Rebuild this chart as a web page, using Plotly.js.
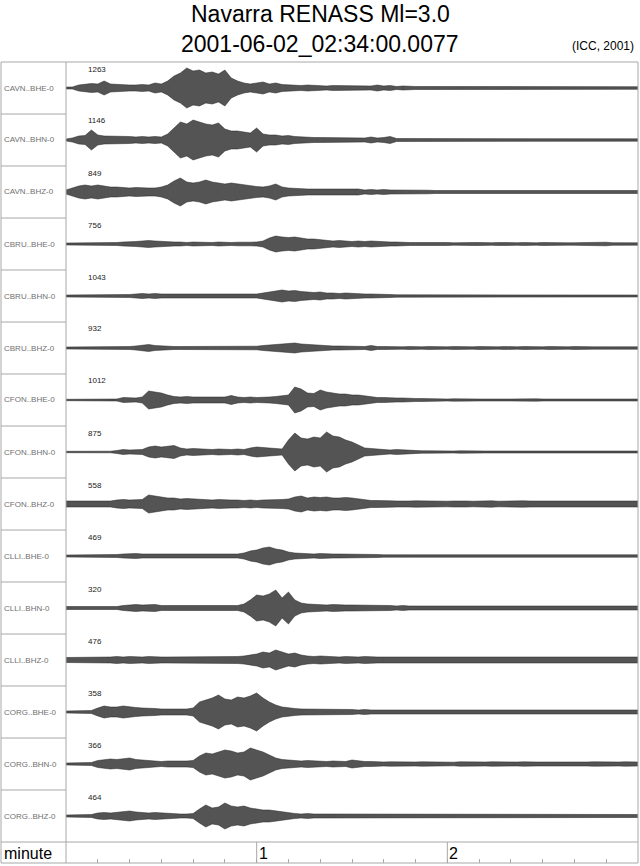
<!DOCTYPE html>
<html><head><meta charset="utf-8">
<script src="https://cdn.plot.ly/plotly-3.0.1.min.js"></script>
<style>html,body{margin:0;padding:0;background:#fff}#chart{width:640px;height:866px}</style>
</head><body><div id="chart"></div>
<script>
// time of each envelope sample, seconds after 02:34:00.0077
const timeSec = [0,2,4,6,8,10,12,14,16,18,20,22,24,26,28,30,32,34,36,38,40,42,44,46,48,50,52,54,56,58,60,62,64,66,68,70,72,74,76,78,80,82,84,86,88,90,92,94,96,98,100,102,104,106,108,110,112,114,116,118,120,122,124,126,128,130,132,134,136,138,140,142,144,146,148,150,152,154,156,158,160,162,164,166,168,170,172,174,176,178,180];

const stations = ["CAVN..BHE-0","CAVN..BHN-0","CAVN..BHZ-0","CBRU..BHE-0","CBRU..BHN-0","CBRU..BHZ-0","CFON..BHE-0","CFON..BHN-0","CFON..BHZ-0","CLLI..BHE-0","CLLI..BHN-0","CLLI..BHZ-0","CORG..BHE-0","CORG..BHN-0","CORG..BHZ-0"];
const peakCounts = [1263,1146,849,756,1043,932,1012,875,558,469,320,476,358,366,464];

// envelope (peak deviation, relative units) read from the record
const ampCAVN_BHE = [1,1,3,4,4.5,4,7,4,3.5,3, 3,3,3.5,3,5,4,7,12,15,20, 17,18,15,16,14,18,10,7,5,4, 5,6,4,5,3.5,3,3,2.5,3,2.5, 2.5,2,2.5,2.5,2,2.5,2,2.5,2,3, 2,2.5,1.5,2,1.5,1.5,1.5,1.5,1.2,1.5, 1.5,1.2,1.5,1.2,1.5,1.8,1.2,1.5,1.5,1.2, 1.3,1.5,1.5,1.3,1.2,1.5,1.3,1.2,1.4,1.5, 1.2,1.3,1.5,1.2,1.3,1.5,1.2,1.3,1.5,1.2, 1.3];
const ampCAVN_BHN = [1,2,4,4.5,10,5,4,4,3.5,4, 3.5,3,3.5,3,3.5,3,6,12,18,16, 20,18,16,15,17,11,9,9,8,7, 12,6,5,5,4,4.5,3.5,3,3,2.5, 2.5,2.5,2,2.5,2,2.5,2.5,2,3,2, 2.5,3.5,1.5,1.5,1.2,1.5,1.5,1.2,1.3,1.5, 1.5,1.2,1.3,1.2,1.5,1.3,1.2,1.5,1.4,1.5, 1.5,1.2,1.2,1.3,1.4,1.2,1.3,1.2,1.5,1.3, 1.2,1.4,1.3,1.5,1.2,1.3,1.4,1.2,1.3,1.5, 1.2];
const ampCAVN_BHZ = [2,4,6,7,6,7,6,5,5,4.5, 4,4.5,4,4,4,5,7,11,14,10, 9,10,12,10,9,8,9,8,7,6, 5.5,5,6,8,5,4,3.5,3.5,3,3, 3,2.5,3,2.5,3,2.5,3,2,2.5,2, 2.5,2,2,2.5,2,2.5,2,1.8,1.5,1.5, 1.5,1.3,1.5,1.5,1.3,1.5,1.5,1.2,1.5,1.5, 1.3,1.5,1.5,1.2,1.5,1.3,1.5,1.5,1.3,1.5, 1.2,1.5,1.5,1.3,1.5,1.5,1.3,1.5,1.4,1.5, 1.5];
const ampCBRU_BHE = [1,1,1,1.2,1,1.2,1.5,1.5,1.5,2, 2,2.5,3,3.5,3,2.5,2.5,2,2,1.5, 2,1.8,1.5,1.5,2,1.5,1.5,1.8,1.5,1.8, 2,3,6,8,7,6.5,7,6,5,5, 4.5,4,3,3.5,3,2.5,3,2.5,3,2.5, 2,2,2,1.5,1.5,1.5,1.5,2,1.3,1.5, 1.5,1.2,1.5,1.3,1.5,1.5,1.2,1.3,1.5,1.2, 1.2,1.3,1.5,1.2,1.2,1.5,1.3,1.5,1.2,1.2, 1.3,1.5,1.3,1.2,1.5,1.8,1.3,1.2,1.3,1.2, 1.2];
const ampCBRU_BHN = [1,1,1,1,1,1,1,1,1.2,1.2, 1.5,2,2.5,2,2.5,2,2,1.8,1.5,1.5, 1.8,1.5,1.5,1.5,1.5,1.5,1.5,1.8,1.5,1.5, 2,3,4,5,6,5,5.5,4.5,4,3.5, 4,3,3,2.5,3,2.5,2.5,2,2,2, 1.5,1.5,1.2,1.2,1.2,1,0.8,0.8,1,1.2, 1.2,1,1.2,1.1,1.2,1.3,1,1.2,1.2,1, 1.2,1.1,1.2,1,1.3,1.2,1,1.2,1.1,1.2, 1.2,1,1.3,1.1,1.2,1.2,1,1.2,1.1,1.2, 1];
const ampCBRU_BHZ = [1,1,1,1,1,1,1.2,1.5,1.5,1.5, 1.5,2,3,3.5,2.5,2,1.8,1.5,1.5,1.5, 1.8,1.5,1.5,1.5,1.5,1.5,1.5,1.5,1.5,1.5, 1.8,2.5,3,3,3.5,4,5,4,3.5,3, 3,2.5,2,2,2,1.8,1.5,1.5,2.5,1.5, 1.5,1.2,1.2,1.2,1.5,1.2,1.2,1.5,1.2,1.2, 1.2,1.5,1.2,1.2,1.2,1.5,1.2,1.2,1.2,1.5, 1.2,1.2,1.5,1.2,1.2,1.2,1.5,1.2,1.2,1.2, 1.5,1.2,1.2,1.2,1.2,1.5,1.2,1.2,1.2,1.5, 1.2];
const ampCFON_BHE = [0.7,0.7,0.7,0.7,0.8,0.7,0.7,0.8,1,2.5, 2.5,2,3,9,8,7,5,3.5,3,3.5, 3,3,2.5,3,2.5,3,4.5,3,2.5,3, 2.5,2.5,3,3.5,4,5,13,11,7,6.5, 10,8,7,6,6,5,5,4,3,2.5, 2.5,2,2,2,1.5,1.5,1.5,1.2,1.2,1.2, 1,1.2,1,1,1.2,1,1,1.2,1,1, 1,1.2,1,1,1.2,1,1,1,1.2,1, 1,1.2,1,1,1,1.2,1,1,1,1.2, 1];
const ampCFON_BHN = [0.7,0.7,0.7,0.7,0.7,0.8,0.7,0.8,1.5,2.5, 2,2,2.5,5,6,5,6,6.5,4,3, 3.5,3,3,2.5,3,2.5,2.5,3,2.5,4, 5,4.5,4,3,3,12,19,14,13,15, 14,20,16,15,12,10,7,4,3.5,3, 2.5,2,2.5,2,1.5,1.5,1.2,1.2,1,1.2, 1,1,1.2,1,1,1.2,1,1,1,1.2, 1,1,1.2,1,1,1,1.2,1,1,1, 1.2,1,1,1.2,1,1,1,1.2,1,1, 1];
const ampCFON_BHZ = [3,3,3.5,3,3,3.5,3,3,4,4.5, 4,4,4.5,9,8,7,6,6,5,5.5, 5,4.5,4,4,4.5,4,4,4,3.5,4, 3.5,4,4,4,4.5,5,7,8,6,7, 6.5,7,6,6,6.5,6,5,4,3.5,3.5, 3,3.2,3,2.8,3,3.2,3,2.8,3,3, 2.8,3,3.2,3,2.8,3,3,3.2,2.8,3, 3,2.8,3.2,3,3,2.8,3,3.2,3,2.8, 3,3,3.2,2.8,3,3,2.8,3.2,3,3, 3];
const ampCLLI_BHE = [1,1,1,1,1,1,1,1.2,1.5,2, 2.5,2.5,2,2,2,1.8,1.5,1.5,1.8,1.5, 1.5,1.5,1.5,1.8,1.5,1.5,1.8,2,3,5, 6,8,9,7,6,4,3,2.5,2,2, 2.5,2,2,2,2,1.8,1.5,1.5,1.5,1.5, 1.2,1.5,1.2,1.2,1.5,1.2,1.2,1.2,1.5,1.2, 1.2,1.2,1.5,1.2,1.2,1.2,1.5,1.2,1.2,1.2, 1.5,1.2,1.2,1.2,1.2,1.5,1.2,1.2,1.2,1.5, 1.2,1.2,1.2,1.5,1.2,1.2,1.2,1.2,1.5,1.2, 1.2];
const ampCLLI_BHN = [1.5,1.5,1.5,1.5,1.8,1.5,1.5,1.5,1.5,2.5, 3,3.5,3,3,3.5,2.5,2.5,2.5,2,2.5, 2,2,2.5,2,2,2,2,2.5,4,8, 13,12,14,18,10,16,8,5,4,3.5, 3,3,3.5,3,3,3,3,2.5,3,2.5, 2.5,2.5,2,2.5,2,2,2.5,2,2,2, 2,1.8,2,2.2,1.8,2,2,1.8,2.2,2, 1.8,2,2,2.2,1.8,2,2,1.8,2,2.2, 2,1.8,2,2,2.2,1.8,2,2,1.8,2, 2];
const ampCLLI_BHZ = [2.5,2.5,2.5,2.5,3,2.5,3,3,3.5,3, 3.5,3,3,3.5,3,3,3,3,3.5,3, 3,3,3,3,3,3,3.5,3.5,4,5, 6,8,7,10,8,6,7,5,4,3.5, 4,3.5,3,3,3.5,3,3,3.5,3,3, 3,3,3,3.5,3,3,3,2.8,3,3.2, 3,2.8,3,3.2,3,3,2.8,3,3.2,3, 3,3.2,2.8,3,3,3.2,3,2.8,3,3, 3.2,3,2.8,3,3,3.2,3,3,2.8,3, 3];
const ampCORG_BHE = [1,1,1,1.2,1.5,4,6,5,5,6, 5,4.5,4,4,3.5,3,3,3,3.5,3, 4,10,12,14,17,13,12,15,14,16, 19,14,10,7,5,4,3.5,3,3,3, 2.5,3,2.5,3,2.5,2.5,2,2.5,2,2, 2,2,2.2,2,1.8,2,2,2.2,2,1.8, 2,2.2,2,1.8,2,2,2.2,1.8,2,2, 1.8,2,2.2,2,2,1.8,2,2.2,2,2, 2.2,1.8,2,2,2.2,2,1.8,2,2,2.2, 2];
const ampCORG_BHN = [1,1,1,1,1.5,3.5,4.5,5,4.5,5, 6,4.5,4,3.5,3,2.5,3,3,2.5,3, 3.5,8,11,10,12,14,13,11,12,16, 14,12,9,6,4.5,4,3.5,3,3.5,3, 3,2.5,3,2.5,2.5,4,3,2.5,2.5,2, 2,2.2,2,1.8,2,2,2.2,2,1.8,2, 2,1.8,2.2,2,2,1.8,2,2.2,2,1.8, 2,2,2.2,1.8,2,2,1.8,2.2,2,2, 1.8,2,2,2.2,2,1.8,2,2,2.2,2, 2];
const ampCORG_BHZ = [1,1,1,1,1.5,3,3.5,3,3.5,4, 5,4,3.5,3,3.5,3,2.5,2,2,2, 2.5,7,11,8,9,13,10,9,10,8, 7,6,6,5,4,3,2.5,2,2.5,2, 2,2,1.8,2,2,1.8,2,1.5,1.8,1.5, 1.5,1.5,1.8,1.5,1.5,1.3,1.5,1.5,1.8,1.5, 1.5,1.3,1.5,1.5,1.5,1.8,1.5,1.3,1.5,1.5, 1.5,1.5,1.3,1.5,1.8,1.5,1.5,1.5,1.3,1.5, 1.5,1.8,1.5,1.5,1.3,1.5,1.5,1.5,1.8,1.5, 1.5];

const amplitudes = [ampCAVN_BHE,ampCAVN_BHN,ampCAVN_BHZ,ampCBRU_BHE,ampCBRU_BHN,ampCBRU_BHZ,ampCFON_BHE,ampCFON_BHN,ampCFON_BHZ,ampCLLI_BHE,ampCLLI_BHN,ampCLLI_BHZ,ampCORG_BHE,ampCORG_BHN,ampCORG_BHZ];

const minuteTicks = [60, 120];
const minuteLabels = ["1", "2"];

// ---------- drawing ----------
const W = 640, H = 866;
const TOP = 62, ROWS_BOTTOM = 842, BOTTOM = 863, LEFT = 1, SEP = 66, RIGHT = 638;
const ROW = (ROWS_BOTTOM - TOP) / stations.length;
const px = x => x / W;
const py = y => 1 - y / H;
const FONT = "Liberation Sans, Arial, Helvetica, sans-serif";
const GRID = "#a8a8a8";

const data = [];
amplitudes.forEach((amp, i) => {
  const c = i + 0.5;
  data.push({x: timeSec, y: amp.map(a => c - a / ROW), type: "scatter", mode: "lines",
    line: {color: "#222", width: 0.5}, hoverinfo: "skip", showlegend: false});
  data.push({x: timeSec, y: amp.map(a => c + a / ROW), type: "scatter", mode: "lines",
    fill: "tonexty", fillcolor: "rgba(85,85,85,0.75)",
    fillpattern: {shape: "|", size: 2, solidity: 0.5, fgcolor: "#000", fgopacity: 0.9,
                  bgcolor: "rgba(110,110,110,0.7)"},
    line: {color: "#222", width: 0.5}, hoverinfo: "skip", showlegend: false});
});
// bottom time axis (ticks only)
data.push({x: [0, 180], y: [0, 0], xaxis: "x2", yaxis: "y2", type: "scatter", mode: "lines",
  line: {color: "rgba(0,0,0,0)"}, hoverinfo: "skip", showlegend: false});

const shapes = [];
const line = (x0, y0, x1, y1) => shapes.push({type: "line", xref: "paper", yref: "paper",
  x0: px(x0), y0: py(y0), x1: px(x1), y1: py(y1), line: {color: GRID, width: 1}});
shapes.push({type: "rect", xref: "paper", yref: "paper", x0: px(LEFT), x1: px(RIGHT),
  y0: py(BOTTOM), y1: py(TOP), line: {color: GRID, width: 1}});
line(SEP, TOP, SEP, BOTTOM);
line(LEFT, ROWS_BOTTOM, RIGHT, ROWS_BOTTOM);
for (let k = 1; k < stations.length; k++) line(LEFT, TOP + k * ROW, SEP, TOP + k * ROW);
minuteTicks.forEach(t => shapes.push({type: "line", xref: "x2", yref: "paper",
  x0: t, x1: t, y0: py(BOTTOM), y1: py(ROWS_BOTTOM), line: {color: GRID, width: 1}}));

const annotations = [
  {text: "Navarra RENASS Ml=3.0", x: 0.5, y: py(14), xref: "paper", yref: "paper",
   xanchor: "center", yanchor: "middle", showarrow: false, font: {family: FONT, size: 23, color: "#000"}},
  {text: "2001-06-02_02:34:00.0077", x: 0.5, y: py(44), xref: "paper", yref: "paper",
   xanchor: "center", yanchor: "middle", showarrow: false, font: {family: FONT, size: 23, color: "#000"}},
  {text: "(ICC, 2001)", x: px(636), y: py(46), xref: "paper", yref: "paper",
   xanchor: "right", yanchor: "middle", showarrow: false, font: {family: FONT, size: 12, color: "#000"}},
  {text: "minute", x: px(2), y: py(853), xref: "paper", yref: "paper",
   xanchor: "left", yanchor: "middle", showarrow: false, font: {family: FONT, size: 16, color: "#000"}}
];
stations.forEach((s, i) => {
  annotations.push({text: s, x: px(2), y: py(TOP + (i + 0.5) * ROW), xref: "paper", yref: "paper",
    xanchor: "left", yanchor: "middle", showarrow: false, font: {family: FONT, size: 8, color: "#707070"}});
  annotations.push({text: String(peakCounts[i]), x: px(86), y: py(TOP + i * ROW + 7), xref: "paper", yref: "paper",
    xanchor: "left", yanchor: "middle", showarrow: false, font: {family: FONT, size: 8, color: "#222"}});
});
minuteTicks.forEach((t, j) => annotations.push({text: minuteLabels[j], x: t, xref: "x2",
  y: py(853), yref: "paper", xanchor: "left", yanchor: "middle", showarrow: false,
  font: {family: FONT, size: 16, color: "#000"}}));

const layout = {
  width: W, height: H, margin: {l: 0, r: 0, t: 0, b: 0},
  paper_bgcolor: "#fff", plot_bgcolor: "rgba(0,0,0,0)", showlegend: false, hovermode: false,
  xaxis: {domain: [px(SEP), px(RIGHT)], range: [0, 180], visible: false, fixedrange: true},
  yaxis: {domain: [py(ROWS_BOTTOM), py(TOP)], range: [stations.length, 0], visible: false, fixedrange: true},
  xaxis2: {domain: [px(SEP), px(RIGHT)], range: [0, 180], anchor: "y2", showgrid: false, zeroline: false,
    showline: false, showticklabels: false, ticks: "inside", ticklen: 4, tickwidth: 1, tickcolor: GRID,
    tick0: 0, dtick: 10, fixedrange: true},
  yaxis2: {domain: [py(BOTTOM), py(ROWS_BOTTOM)], range: [0, 1], visible: false, fixedrange: true},
  shapes: shapes, annotations: annotations
};
Plotly.newPlot("chart", data, layout, {staticPlot: true, displayModeBar: false});
</script>
</body></html>
